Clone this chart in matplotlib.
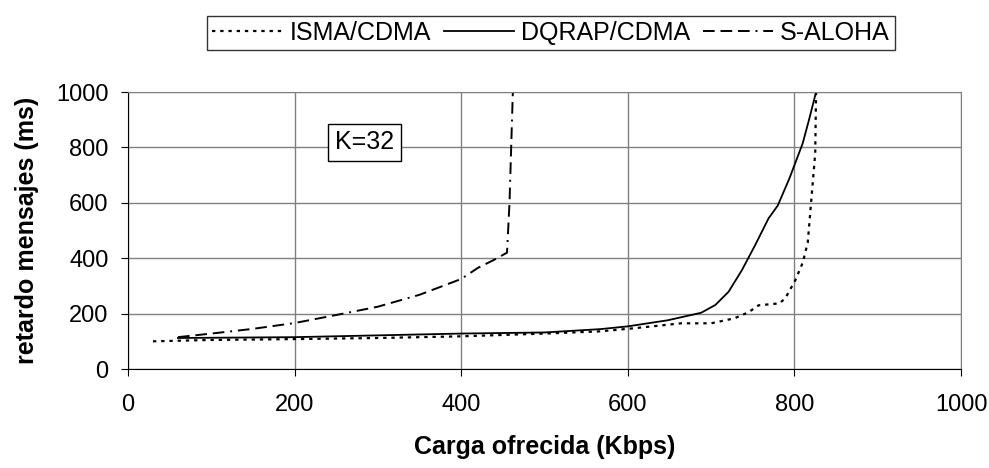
import matplotlib.pyplot as plt

plt.rcParams['font.family'] = ['Liberation Sans', 'DejaVu Sans']

# Datos (Kbps, ms)
isma_x = [30, 100, 200, 300, 400, 500, 567, 607, 664, 700, 728, 745, 757, 782, 789, 801, 810, 816, 820, 825, 826]
isma_y = [100, 105, 108, 112, 118, 128, 136, 147, 165, 165, 183, 205, 230, 237, 255, 320, 384, 456, 600, 780, 1000]

dqrap_x = [60, 200, 400, 500, 567, 600, 648, 688, 705, 721, 737, 753, 769, 780, 794, 810, 818, 826]
dqrap_y = [112, 115, 128, 132, 144, 154, 176, 203, 231, 279, 357, 448, 544, 590, 688, 815, 905, 1000]

aloha_x = [60, 100, 150, 200, 250, 300, 350, 400, 420, 440, 455, 458, 462]
aloha_y = [115, 128, 145, 166, 195, 225, 268, 325, 365, 395, 420, 600, 1000]

fig = plt.figure(figsize=(9.89, 4.68), dpi=100)
ax = fig.add_axes([0.1294, 0.2115, 0.8423, 0.5919])

l1, = ax.plot(isma_x, isma_y, color='black', lw=1.6, linestyle=(0, (1.5, 2.2)), label='ISMA/CDMA')
l2, = ax.plot(dqrap_x, dqrap_y, color='black', lw=1.3, label='DQRAP/CDMA')
l3, = ax.plot(aloha_x, aloha_y, color='black', lw=1.4,
              linestyle=(0, (6, 3, 6, 3, 6, 3, 1, 3)), label='S-ALOHA')

ax.set_xlim(0, 1000)
ax.set_ylim(0, 1000)
ax.set_xticks(range(0, 1001, 200))
ax.set_yticks(range(0, 1001, 200))
ax.grid(True, color='#808080', lw=1)
ax.set_axisbelow(True)
ax.tick_params(labelsize=17, direction='out', length=5)
ax.tick_params(axis='x', pad=13)
ax.tick_params(axis='y', pad=9)
for s in ['top', 'right']:
    ax.spines[s].set_color('#808080')

ax.set_xlabel('Carga ofrecida (Kbps)', fontsize=18, fontweight='bold', labelpad=14)
ax.set_ylabel('retardo mensajes (ms)', fontsize=18, fontweight='bold', labelpad=12)

ax.text(284, 818, 'K=32', fontsize=18, ha='center', va='center',
        bbox=dict(boxstyle='square,pad=0.27', fc='white', ec='black', lw=1))

leg = fig.legend(handles=[l1, l2, l3], loc='lower right', bbox_to_anchor=(0.905, 0.893),
                 ncol=3, fontsize=18, frameon=True, fancybox=False, edgecolor='black',
                 handlelength=2.8, handletextpad=0.3, columnspacing=0.5,
                 borderpad=0.2, borderaxespad=0)
leg.get_frame().set_linewidth(1)

fig.savefig('out.png', dpi=100, facecolor='white')
